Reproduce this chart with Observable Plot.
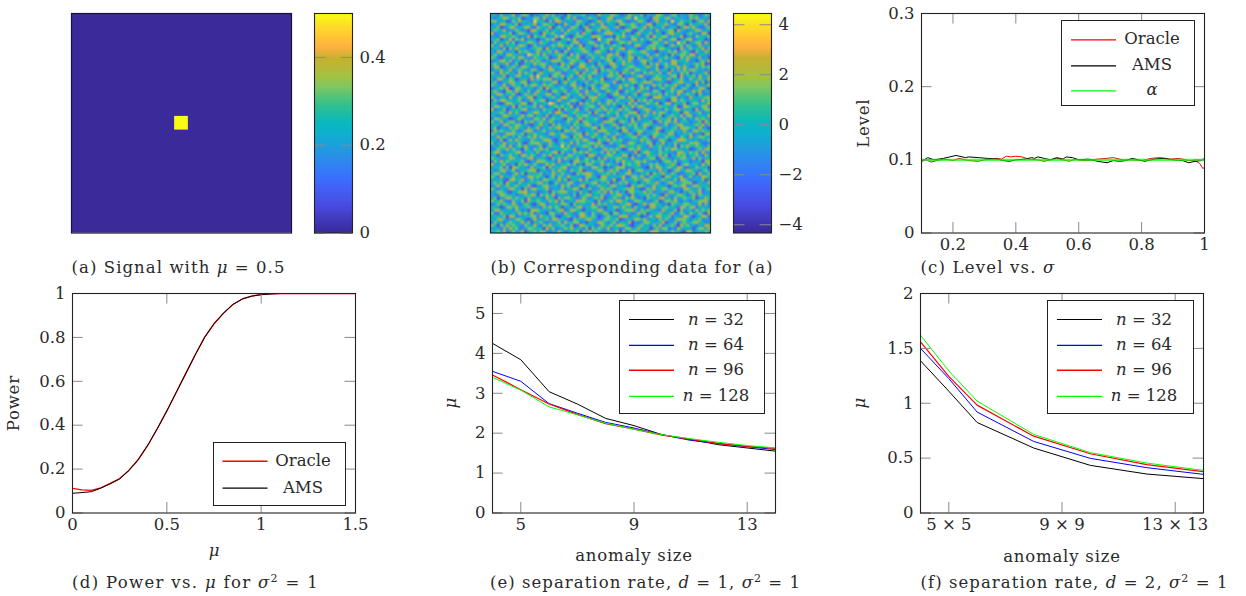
<!DOCTYPE html>
<html><head><meta charset="utf-8">
<script src="https://cdn.jsdelivr.net/npm/d3@7"></script>
<script src="https://cdn.jsdelivr.net/npm/@observablehq/plot@0.6"></script>
<style>
html,body{margin:0;padding:0;background:#fff}
#page{position:relative;width:1246px;height:596px;overflow:hidden;font-family:"DejaVu Serif",serif;color:#2a2a2a}
#page svg{position:absolute;overflow:visible;background:transparent}
.cap{position:absolute;white-space:nowrap;font-size:16.5px;line-height:20px}
.cap sup{font-size:11px;line-height:0}
.leg{position:absolute;background:#fff;border:1.3px solid #222;box-sizing:border-box}
.leg .tx{position:absolute;white-space:nowrap;font-size:16.5px;line-height:20px;transform:translate(-50%,-50%)}
</style></head>
<body><div id="page"></div>
<script>
// ---------- data ----------
const parulaStops = [0,.12,.25,.35,.45,.5,.58,.67,.72,.8,.85,.92,1];
const parulaColors = ["#3a2a9a","#4a4ae0","#3a70ff","#2a90e8","#10b0d0","#08b8c0","#30c090","#80c860","#a8c040","#c8b030","#ffb040","#ffd030","#f8fb14"];

const signalPatches = [
  {x1:0,x2:128,y1:0,y2:128,v:0},
  {x1:60,x2:68,y1:60,y2:68,v:0.5}
];
const signalTicks = [0,0.2,0.4];
const dataTicks = [-4,-2,0,2,4];

// Panel (b): hand-estimated, coarse stand-in for the 128x128 noise field.
// Digits are levels 0-9. The texture and overall tint follow the picture;
// individual cells cannot be read and are not cell-accurate.
const noiseRows = [
"55364457 34665243 55746344 26545563 44375546 65334755 46254476 53466354 47553465",
"43557645 56234466 37445652 56473345 65524467 34456638 55442765 46635544 36574453",
"66445236 47554385 54263775 44536644 23575465 56743344 66523574 45384465 55246637",
"35476554 62445573 46655243 75346452 56447345 42665575 34476255 57443664 26455473",
"54623467 44576336 55472564 43665257 34556744 57324566 45736544 63455247 65743356",
"46557344 65342775 44635546 37554426 65473564 43557632 56445374 45662754 34576445",
"73445562 46653454 27556443 65446375 52344677 55463425 74456355 24675543 56443762",
"44367556 53447265 56344758 43256654 47665334 26574465 53462755 66354472 45365546",
"55624473 65735442 44657325 56473445 53284566 47544367 36456547 43576245 67345524",
"36455746 24456653 75534465 42567344 66435572 34665745 55423664 57443856 24566374",
"64473555 46752364 45346576 55634725 44756345 65524436 74356655 42475563 65347445",
"45536264 75443556 62745435 37455664 52346547 45673554 23465746 65534274 46455736",
"53764445 26565347 45563742 64345576 43675524 36445765 56744325 44657356 53264475",
"46453675 54438656 37445566 52746434 65554367 57324645 44563574 35264566 47735544",
"65325546 47644365 55623474 46557325 36446575 44635762 65347445 56543264 75446352",
"34576463 55264756 43457665 34665542 74453566 25564743 46755336 44376555 63425647",
"56445734 62355475 66534427 55743664 35265447 64475553 35626474 56467345 44565723",
"47623556 44765343 56374556 46235775 56446324 75345665 44575462 36545747 53364656",
"35564473 56543664 24576345 65464537 44726565 53457436 65534474 55263647 46754435",
"64375645 37465525 75445663 34557264 56635447 46265574 43657546 34745365 62544573",
"45546254 66445738 44526657 45634755 73445366 55724345 67343565 54466273 55637446",
"53674465 24553746 56673445 26445563 65547234 46563775 34524667 45735464 36456547",
"46335576 45762454 35446725 75563446 34656544 73254566 45766345 53245675 44573625",
"65447346 55364675 47565344 53674425 56435763 44657452 56344756 36557443 65264457",
"34565723 66445534 62745556 44365745 27546654 35744563 47562435 64475356 53446742",
"57432664 75536347 54426645 63556347 45643475 56236554 75443664 25564673 44757355",
"45764556 32465475 45763552 46445736 54365524 67445356 24675546 36453745 65526434",
"64355374 46547625 53456447 75354562 66745432 45663745 45532677 54466354 37445566",
"36467554 56344755 66243574 44665325 47553466 36445572 65746344 53267465 45553746",
"55324765 45762364 45587435 56342746 55364475 64553746 34465572 46735546 24664557",
"46655437 26455563 74345656 45724355 66437544 53265474 67534456 55446237 65544673",
"73446245 55673445 36554262 65457346 34565746 45746532 44675354 36456745 45273566",
"45565374 64235576 45463775 34565544 62744365 56354667 25463746 65345526 74456345",
"54347655 45746635 53625446 75436566 44357554 36457445 63754556 24565473 66345547",
"36655423 57544366 47356554 26645735 55643247 65545362 74443565 55736446 35475654",
"64473566 34265745 65475343 56457266 45534766 42665375 44556237 46647355 53446275",
"45536745 66453245 74526464 45365557 63456345 75244656 35765443 56345764 44565736",
"56244365 75536457 35464675 53746344 56726545 36575446 54632567 44456376 65537442",
"37565546 43467634 56445352 66574435 45366754 54267345 66445573 25564547 43675655",
"65434776 55625465 44367556 43456627 55743564 46535642 74354665 54763445 56344267",
"44756535 36446574 65534447 65265743 46554635 73445566 35642754 46554365 37456654",
"55362464 75543654 46763255 34556476 43265574 65643455 47564336 65245776 54453546",
"63547455 46325667 54475346 54736445 66574236 45534765 35466254 73546445 46675334",
"45466373 56574435 62465548 46345566 53756443 34675554 65437456 44536265 75465536",
"34655746 44265365 75634455 65572443 65434756 56423665 74453546 36576544 52346476",
"56743455 67345546 34556726 44365657 45546374 63554437 25675446 55443675 46563744",
"45265564 53764653 46473555 36645442 77534566 45476253 64365547 46254756 35564374",
"65534476 45446735 55326464 75546346 54263745 56645374 43556624 75435566 44736455",
"36475654 55632447 66545373 44267556 46556435 36475546 65744352 56646345 53445267",
"74456345 26575464 34757445 56463526 65347465 44265655 73446564 35575246 64553746",
"45563627 65443745 56264556 73445654 36755243 57663445 54326476 45654763 34465552",
"53467456 34556672 45436475 53655724 44466357 56344725 66454537 45236645 76543564",
"46645335 74625455 63547546 44326567 75345564 63546744 35562655 74465334 55627446",
"65374546 45346756 54256365 47554436 65426745 45573366 47436554 26645573 46354765",
"44553267 55734645 36655474 62455736 34556644 72364556 54765435 65446376 53544625",
"56462754 36445556 74523654 46743455 56735462 44657345 25465574 35764456 66235447",
"35745645 64557324 46645537 56344672 45465536 75443265 66534745 44256567 34675554",
"64354476 45263675 55734446 35576254 63447565 34556674 42365745 66453436 75446356",
"45665324 56774453 34526566 74453645 25564737 46352665 55746344 53675425 46557344",
"53476555 34465762 65647345 45362556 74546435 56744263 45564653 27445665 34736545",
"46245764 65536445 43755264 66543475 35657244 65436575 34265546 74536456 55624475",
"65574336 44627556 54465736 34547665 54263456 47755346 65443562 46657435 43556674",
"34656547 53465325 76345546 65264554 47365645 43556732 45747655 34265546 65447363",
"55423665 74556444 36574652 45446735 56634254 66475536 44326745 56554376 46735544",
"46754453 65342676 54453567 34765425 45576344 52456675 36565443 75446263 55364656",
"63365545 47564735 44266453 75534664 36445752 66354534 75624556 44573465 36546427",
"45546276 34455663 75546324 56443775 46523565 44767355 52346476 55635447 64245763",
"54675344 66532474 45636755 43265546 75434665 56234547 65744536 46435766 53556344",
"36453565 45746255 64354463 75566342 54476535 63554724 34665455 72446356 45675534",
"65264756 54365474 36574556 44623765 45347556 46765324 56453647 35564275 64435476",
"44536475 63446655 52746344 65745536 26465473 55346645 74552464 66343755 45256647",
"55647346 45725564 66435475 34556264 75644355 47263566 45536774 45465532 76345465"
];
const noiseN = 72;
const noiseValues = noiseRows.flatMap(r => Array.from(r.replace(/ /g,"").padEnd(noiseN,"5").slice(0,noiseN), c => (+c - 4.75) * 1.15));

const levelOracleX = [.1,.115,.13,.15,.17,.19,.2,.22,.25,.28,.3,.32,.34,.355,.37,.385,.4,.42,.44,.47,.49,.51,.53,.55,.57,.59,.61,.63,.66,.69,.71,.74,.77,.8,.83,.86,.89,.92,.95,.97,.985,.995,1];
const levelOracleY = [.098,.1,.097,.099,.101,.1,.099,.102,.099,.098,.1,.101,.102,.101,.105,.104,.105,.104,.101,.1,.098,.1,.102,.1,.098,.101,.099,.099,.101,.102,.103,.1,.1,.099,.102,.103,.101,.102,.099,.099,.095,.088,.09];
const levelAmsX = [.1,.12,.14,.17,.21,.24,.25,.28,.31,.34,.36,.38,.4,.43,.45,.46,.47,.49,.51,.53,.55,.56,.58,.6,.63,.66,.69,.71,.73,.75,.77,.79,.81,.84,.87,.9,.93,.95,.97,.99,1];
const levelAmsY = [.098,.103,.1,.102,.106,.103,.104,.103,.102,.101,.099,.098,.1,.101,.103,.102,.104,.102,.1,.103,.101,.104,.103,.1,.101,.098,.096,.099,.098,.099,.102,.1,.098,.101,.102,.1,.099,.096,.098,.099,.102];
const levelAlphaX = [.1,1];
const levelAlphaY = [.1,.1];

const muX = [0,.05,.1,.15,.2,.25,.3,.35,.4,.45,.5,.55,.6,.65,.7,.75,.8,.85,.9,.95,1,1.05,1.1,1.5];
const powerOracle = [.112,.105,.103,.115,.135,.157,.195,.245,.31,.385,.465,.55,.635,.72,.8,.862,.91,.95,.975,.988,.995,.998,1,1];
const powerAms = [.09,.093,.097,.113,.133,.155,.195,.245,.31,.385,.465,.55,.635,.72,.8,.862,.91,.95,.975,.988,.995,.998,1,1];

const sizeE = [4,5,6,7,8,9,10,11,12,13,14];
const e32 = [4.25,3.84,3.04,2.73,2.37,2.19,1.96,1.84,1.71,1.63,1.55];
const e64 = [3.55,3.30,2.74,2.50,2.27,2.13,1.96,1.82,1.74,1.66,1.59];
const e96 = [3.46,3.09,2.73,2.47,2.24,2.10,1.95,1.85,1.74,1.67,1.62];
const e128 = [3.40,3.08,2.66,2.46,2.25,2.10,1.96,1.86,1.77,1.69,1.63];

const sizeF = [4,5,6,8,10,12,14];
const f32 = [1.387,1.11,.825,.592,.434,.355,.313];
const f64 = [1.50,1.225,.92,.652,.498,.413,.352];
const f96 = [1.56,1.245,.983,.70,.54,.44,.376];
const f128 = [1.62,1.295,1.02,.716,.55,.455,.388];
const fTicks = [5,9,13];
const fTickLabels = ["5 × 5","9 × 9","13 × 13"];

// ---------- helpers ----------
const page = document.getElementById("page");
const ML=70, MT=10, MR=30, MB=70;
const FONT = {fontFamily:"'DejaVu Serif',serif",fontSize:"16.5px",color:"#2a2a2a"};
const TICK = "#8a8a8a";
const str = d => String(d).replace("-","\u2212");

function colorOpts(domain){
  const [a,b]=domain;
  return {type:"linear",domain:parulaStops.map(s=>a+(b-a)*s),range:parulaColors,interpolate:"rgb"};
}
function mount(svg,fx,fy){
  svg.style.left=(fx-ML)+"px"; svg.style.top=(fy-MT)+"px";
  svg.querySelectorAll('[aria-label="y-axis label"] text, [aria-label="x-axis label"] text').forEach(t=>{
    if(t.textContent==="μ") t.style.fontStyle="italic";
    else t.style.letterSpacing="0.8px";
  });
  page.appendChild(svg);
}
function linePanel(o){
  const fmt=o.xFormat||str;
  const marks=[
    ...o.series.map(s=>Plot.line(s.x.map((x,i)=>({x,y:s.y[i]})),{x:"x",y:"y",stroke:s.color,strokeWidth:s.sw||1,strokeOpacity:s.op||1,clip:true})),
    Plot.tickX(o.xt,{x:d=>d,insetTop:o.h-10.5,stroke:TICK}),
    Plot.tickX(o.xt,{x:d=>d,insetBottom:o.h-10.5,stroke:TICK}),
    Plot.tickY(o.yt,{y:d=>d,insetRight:o.w-10.5,stroke:TICK}),
    Plot.tickY(o.yt,{y:d=>d,insetLeft:o.w-10.5,stroke:TICK}),
    Plot.axisX(o.xt,{anchor:"bottom",tickSize:0,tickPadding:5,tickFormat:fmt,label:o.xLabel||null,labelAnchor:"center",labelArrow:"none",labelOffset:o.xOff||38}),
    Plot.axisY(o.yt,{anchor:"left",tickSize:0,tickPadding:7,tickFormat:str,label:o.yLabel,labelAnchor:"center",labelArrow:"none",labelOffset:o.yOff}),
    Plot.frame({stroke:"#222",strokeWidth:1.1})
  ];
  const svg=Plot.plot({width:o.w+ML+MR,height:o.h+MT+MB,marginLeft:ML,marginTop:MT,marginRight:MR,marginBottom:MB,
    style:FONT,x:{domain:o.xd},y:{domain:o.yd},marks});
  mount(svg,o.x,o.y);
}
function legend(x,y,w,h,lx,lw,tc,rows){
  const d=document.createElement("div");d.className="leg";
  d.style.cssText=`left:${x}px;top:${y}px;width:${w}px;height:${h}px`;
  const NS="http://www.w3.org/2000/svg";
  const s=document.createElementNS(NS,"svg");
  s.setAttribute("width",w);s.setAttribute("height",h);
  s.style.cssText="left:0;top:0";
  d.appendChild(s);
  rows.forEach(r=>{
    const l=document.createElementNS(NS,"line");
    l.setAttribute("x1",lx-x);l.setAttribute("x2",lx-x+lw);
    l.setAttribute("y1",r.y-y);l.setAttribute("y2",r.y-y);
    l.setAttribute("stroke",r.color);l.setAttribute("stroke-width",r.sw||1.2);
    s.appendChild(l);
    const t=document.createElement("div");t.className="tx";
    t.style.cssText=`left:${tc-x}px;top:${r.y-y}px`;t.innerHTML=r.t;
    d.append(t);
  });
  page.appendChild(d);
}
function caption(html,x,cy,w){
  const d=document.createElement("div");d.className="cap";
  d.style.left=x+"px";d.style.top=(cy-10)+"px";d.innerHTML=html;
  page.appendChild(d);
  const m=d.getBoundingClientRect().width, n=d.textContent.length;
  d.style.letterSpacing=((w-m)/n)+"px";
}
function heat(o){
  const svg=Plot.plot({width:o.w+ML+MR,height:o.h+MT+MB,marginLeft:ML,marginTop:MT,marginRight:MR,marginBottom:MB,
    style:FONT,x:{domain:[0,128],axis:null},y:{domain:[128,0],axis:null},color:colorOpts(o.cd),marks:o.marks});
  mount(svg,o.x,o.y);
}
function colorbar(x,y,w,h,cd,ticks,n){
  const levels=d3.range(n).map(i=>cd[0]+(cd[1]-cd[0])*i/(n-1));
  const svg=Plot.plot({width:w+ML+MR+20,height:h+MT+MB,marginLeft:ML,marginTop:MT,marginRight:MR+20,marginBottom:MB,
    style:FONT,x:{domain:[0,1],axis:null},y:{domain:cd,axis:null},color:colorOpts(cd),marks:[
    Plot.raster(levels.slice().reverse(),{width:1,height:n,x1:0,x2:1,y1:cd[1],y2:cd[0],fill:d=>d}),
    Plot.tickY(ticks,{y:d=>d,insetRight:w-11.5,stroke:TICK}),
    Plot.tickY(ticks,{y:d=>d,insetLeft:w-11.5,stroke:TICK}),
    Plot.axisY(ticks,{anchor:"right",tickSize:0,tickPadding:7,tickFormat:str,label:null}),
    Plot.frame({stroke:"#222",strokeWidth:1.1})
  ]});
  mount(svg,x,y);
}

// ---------- panels ----------
heat({x:71,y:13,w:220,h:219.5,cd:[0,.5],marks:[
  Plot.rect(signalPatches,{x1:"x1",x2:"x2",y1:"y1",y2:"y2",fill:"v"}),
  Plot.frame({stroke:"#15133a",strokeWidth:1.2})
]});
colorbar(313.5,13,38,219.5,[0,.5],signalTicks,128);

heat({x:489.5,y:13,w:220,h:219.5,cd:[-4.33,4.45],marks:[
  Plot.raster(noiseValues,{width:noiseN,height:noiseN,x1:0,x2:128,y1:0,y2:128,fill:d=>d}),
  Plot.frame({stroke:"#0c2a3a",strokeWidth:1.2})
]});
colorbar(732.5,13,38,219.5,[-4.33,4.45],dataTicks,128);

linePanel({x:921,y:13,w:283,h:219.5,xd:[.1,1],yd:[0,.3],xt:[.2,.4,.6,.8,1],yt:[0,.1,.2,.3],yLabel:"Level",yOff:64,
  series:[{x:levelOracleX,y:levelOracleY,color:"#f00"},{x:levelAmsX,y:levelAmsY,color:"#000"},{x:levelAlphaX,y:levelAlphaY,color:"#0f0",sw:2.2,op:.7}]});
legend(1061,19.5,133.5,86,1070,45,1151,[{y:38.3,color:"#f00",t:"Oracle"},{y:64.3,color:"#000",t:"AMS"},{y:89.3,color:"#0f0",t:"<i>α</i>"}]);

linePanel({x:71.5,y:293,w:283,h:219.5,xd:[0,1.5],yd:[0,1],xt:[0,.5,1,1.5],yt:[0,.2,.4,.6,.8,1],xLabel:"μ",xOff:43,yLabel:"Power",yOff:65,
  series:[{x:muX,y:powerOracle,color:"#f00",sw:1.3},{x:muX,y:powerAms,color:"#000"}]});
legend(212.5,441.5,133,64.5,221,45,302,[{y:459.7,color:"#f00",sw:1.5,t:"Oracle"},{y:486.7,color:"#000",t:"AMS"}]);

linePanel({x:491.5,y:293,w:283,h:219.5,xd:[4,14],yd:[0,5.5],xt:[5,9,13],yt:[0,1,2,3,4,5],xLabel:"anomaly size",xOff:48,yLabel:"μ",yOff:48,
  series:[{x:sizeE,y:e32,color:"#000"},{x:sizeE,y:e64,color:"#00f"},{x:sizeE,y:e96,color:"#f00",sw:1.2},{x:sizeE,y:e128,color:"#0f0"}]});
const legRows=[{y:318.5,color:"#000",t:"<i>n</i> = 32"},{y:344.3,color:"#00f",t:"<i>n</i> = 64"},{y:369.3,color:"#f00",sw:1.5,t:"<i>n</i> = 96"},{y:395.3,color:"#0f0",t:"<i>n</i> = 128"}];
legend(618.5,300,146.5,114,627.5,45,715,legRows);

linePanel({x:919.5,y:293,w:283,h:219.5,xd:[4,14],yd:[0,2],xt:fTicks,yt:[0,.5,1,1.5,2],xFormat:d=>fTickLabels[fTicks.indexOf(d)],xLabel:"anomaly size",xOff:49,yLabel:"μ",yOff:67,
  series:[{x:sizeF,y:f32,color:"#000"},{x:sizeF,y:f64,color:"#00f"},{x:sizeF,y:f96,color:"#f00",sw:1.2},{x:sizeF,y:f128,color:"#0f0"}]});
legend(1047,300,146.5,114,1056,45,1143,legRows);

// ---------- captions ----------
caption('(a) Signal with <i>μ</i> = 0.5',71.5,268,214);
caption('(b) Corresponding data for (a)',490.5,268,283);
caption('(c) Level vs. <i>σ</i>',920.5,268,135);
caption('(d) Power vs. <i>μ</i> for <i>σ</i><sup>2</sup> = 1',72,583,247);
caption('(e) separation rate, <i>d</i> = 1, <i>σ</i><sup>2</sup> = 1',490,583,311);
caption('(f) separation rate, <i>d</i> = 2, <i>σ</i><sup>2</sup> = 1',920.5,583,308);
</script>
</body></html>
